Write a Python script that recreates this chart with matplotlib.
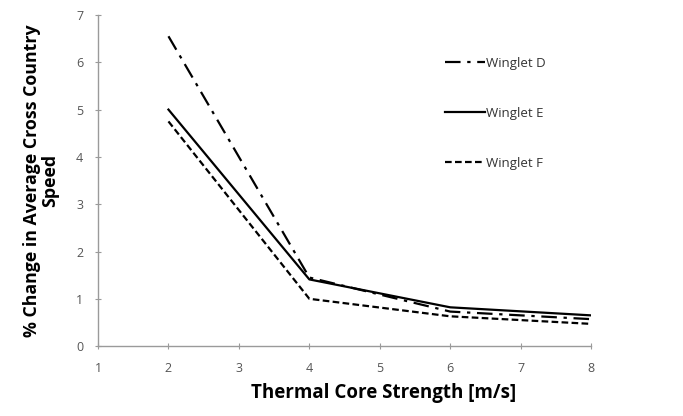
import matplotlib.pyplot as plt

# Daten
strength = [2, 4, 6, 8]
winglet_d = [6.55, 1.45, 0.73, 0.57]
winglet_e = [5.0, 1.41, 0.82, 0.65]
winglet_f = [4.75, 1.0, 0.63, 0.47]

plt.rcParams['font.family'] = ['Open Sans', 'DejaVu Sans']

fig = plt.figure(figsize=(6.83, 4.16), dpi=100)
ax = fig.add_axes([0.1435, 0.168, 0.722, 0.796])

ax.plot(strength, winglet_d, color='black', linewidth=1.6, dashes=(7, 3, 1.5, 3), label='Winglet D')
ax.plot(strength, winglet_e, color='black', linewidth=1.6, linestyle='-', label='Winglet E')
ax.plot(strength, winglet_f, color='black', linewidth=1.6, dashes=(3, 1.5), label='Winglet F')

ax.set_xlim(1, 8)
ax.set_ylim(0, 7)
ax.set_xticks(range(1, 9))
ax.set_yticks(range(0, 8))

for side in ['top', 'right']:
    ax.spines[side].set_visible(False)
for side in ['left', 'bottom']:
    ax.spines[side].set_color('#9a9a9a')
    ax.spines[side].set_linewidth(1.0)

ax.tick_params(axis='both', colors='#9a9a9a', labelcolor='#555555', labelsize=9,
               direction='inout', length=5)
ax.tick_params(axis='x', pad=9)
ax.tick_params(axis='y', pad=8)

ax.set_xlabel("Thermal Core Strength [m/s]", fontsize=13.5, fontweight='bold', labelpad=7)
ax.xaxis.set_label_coords(0.58, -0.11)
ax.set_ylabel("% Change in Average Cross Country\nSpeed", fontsize=12.8, fontweight='bold',
              labelpad=12, linespacing=1.05)

leg = ax.legend(loc='upper left', bbox_to_anchor=(0.68, 0.91), frameon=False, fontsize=9.5,
                handlelength=3.0, handletextpad=0.1, labelspacing=2.8, labelcolor='#333333')

fig.savefig('out.png', dpi=100)
